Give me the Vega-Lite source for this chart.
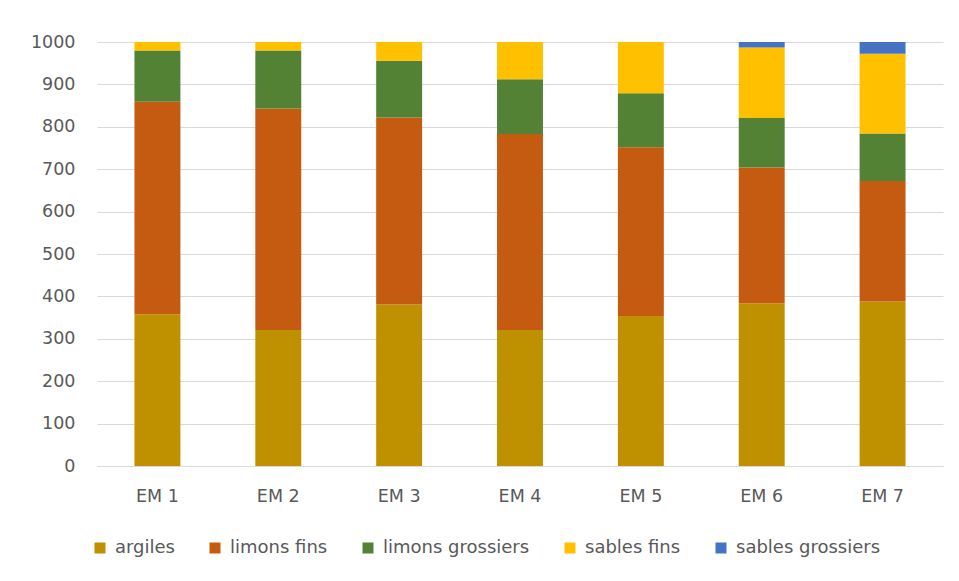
{
  "$schema": "https://vega.github.io/schema/vega-lite/v6.json",
  "width": 846,
  "height": 424,
  "autosize": {"type": "none"},
  "padding": {"left": 97, "top": 42, "right": 16, "bottom": 115},
  "background": "white",
  "config": {
    "view": {"stroke": null},
    "font": "DejaVu Sans"
  },
  "data": {
    "values": [
      {"site": "EM 1", "classe": "argiles", "ordre": 1, "valeur": 358},
      {"site": "EM 1", "classe": "limons fins", "ordre": 2, "valeur": 501},
      {"site": "EM 1", "classe": "limons grossiers", "ordre": 3, "valeur": 121},
      {"site": "EM 1", "classe": "sables fins", "ordre": 4, "valeur": 20},
      {"site": "EM 1", "classe": "sables grossiers", "ordre": 5, "valeur": 0},
      {"site": "EM 2", "classe": "argiles", "ordre": 1, "valeur": 321},
      {"site": "EM 2", "classe": "limons fins", "ordre": 2, "valeur": 522},
      {"site": "EM 2", "classe": "limons grossiers", "ordre": 3, "valeur": 137},
      {"site": "EM 2", "classe": "sables fins", "ordre": 4, "valeur": 20},
      {"site": "EM 2", "classe": "sables grossiers", "ordre": 5, "valeur": 0},
      {"site": "EM 3", "classe": "argiles", "ordre": 1, "valeur": 381},
      {"site": "EM 3", "classe": "limons fins", "ordre": 2, "valeur": 441},
      {"site": "EM 3", "classe": "limons grossiers", "ordre": 3, "valeur": 134},
      {"site": "EM 3", "classe": "sables fins", "ordre": 4, "valeur": 44},
      {"site": "EM 3", "classe": "sables grossiers", "ordre": 5, "valeur": 0},
      {"site": "EM 4", "classe": "argiles", "ordre": 1, "valeur": 321},
      {"site": "EM 4", "classe": "limons fins", "ordre": 2, "valeur": 462},
      {"site": "EM 4", "classe": "limons grossiers", "ordre": 3, "valeur": 129},
      {"site": "EM 4", "classe": "sables fins", "ordre": 4, "valeur": 88},
      {"site": "EM 4", "classe": "sables grossiers", "ordre": 5, "valeur": 0},
      {"site": "EM 5", "classe": "argiles", "ordre": 1, "valeur": 354},
      {"site": "EM 5", "classe": "limons fins", "ordre": 2, "valeur": 398},
      {"site": "EM 5", "classe": "limons grossiers", "ordre": 3, "valeur": 127},
      {"site": "EM 5", "classe": "sables fins", "ordre": 4, "valeur": 121},
      {"site": "EM 5", "classe": "sables grossiers", "ordre": 5, "valeur": 0},
      {"site": "EM 6", "classe": "argiles", "ordre": 1, "valeur": 384},
      {"site": "EM 6", "classe": "limons fins", "ordre": 2, "valeur": 320},
      {"site": "EM 6", "classe": "limons grossiers", "ordre": 3, "valeur": 117},
      {"site": "EM 6", "classe": "sables fins", "ordre": 4, "valeur": 166},
      {"site": "EM 6", "classe": "sables grossiers", "ordre": 5, "valeur": 13},
      {"site": "EM 7", "classe": "argiles", "ordre": 1, "valeur": 388},
      {"site": "EM 7", "classe": "limons fins", "ordre": 2, "valeur": 284},
      {"site": "EM 7", "classe": "limons grossiers", "ordre": 3, "valeur": 112},
      {"site": "EM 7", "classe": "sables fins", "ordre": 4, "valeur": 188},
      {"site": "EM 7", "classe": "sables grossiers", "ordre": 5, "valeur": 28}
    ]
  },
  "mark": {"type": "bar"},
  "encoding": {
    "x": {
      "field": "site",
      "type": "nominal",
      "scale": {"paddingInner": 0.62, "paddingOuter": 0.31},
      "axis": {
        "title": null,
        "labelAngle": 0,
        "labelFontSize": 17.5,
        "labelColor": "#595959",
        "labelPadding": 21,
        "ticks": false,
        "domain": true,
        "domainColor": "#d9d9d9"
      }
    },
    "y": {
      "field": "valeur",
      "type": "quantitative",
      "stack": "zero",
      "scale": {"domain": [0, 1000], "nice": false},
      "axis": {
        "title": null,
        "format": "d",
        "values": [0, 100, 200, 300, 400, 500, 600, 700, 800, 900, 1000],
        "labelFontSize": 17.5,
        "labelColor": "#595959",
        "labelPadding": 22,
        "ticks": false,
        "domain": false,
        "gridColor": "#d9d9d9"
      }
    },
    "color": {
      "field": "classe",
      "type": "nominal",
      "scale": {
        "domain": ["argiles", "limons fins", "limons grossiers", "sables fins", "sables grossiers"],
        "range": ["#BF9000", "#C55A11", "#548235", "#FFC000", "#4472C4"]
      },
      "legend": {
        "title": null,
        "orient": "none",
        "direction": "horizontal",
        "legendX": -6,
        "legendY": 497,
        "symbolType": "square",
        "symbolSize": 121,
        "symbolStrokeWidth": 0,
        "labelFontSize": 18,
        "labelColor": "#595959",
        "labelOffset": 6,
        "columnPadding": 31
      }
    },
    "order": {"field": "ordre", "type": "quantitative"}
  }
}
